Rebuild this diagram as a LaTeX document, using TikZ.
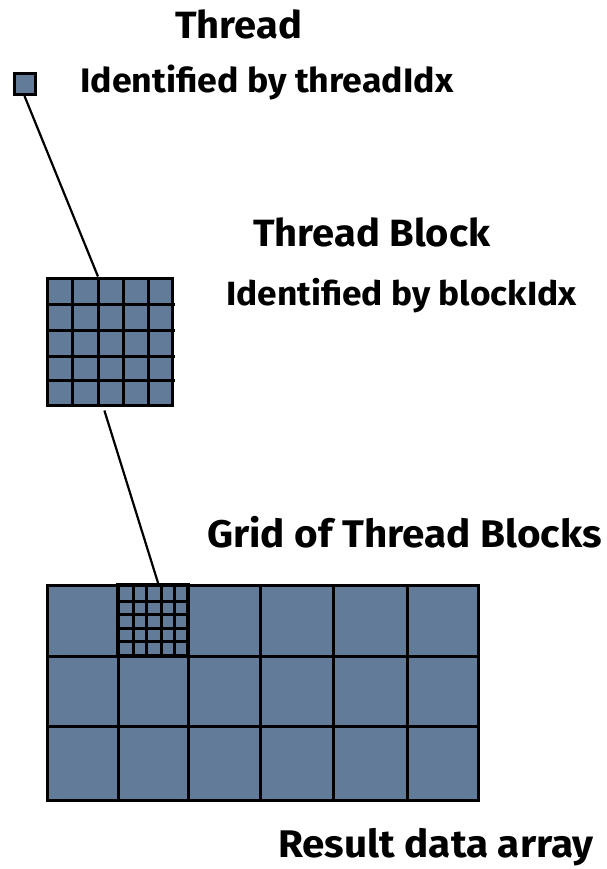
\documentclass[tikz,border=0pt]{standalone}
\usepackage{fontspec}
\setmainfont{Fira Sans}[FakeStretch=1.05]
\usetikzlibrary{calc}
\definecolor{cellblue}{RGB}{98,123,153}
\tikzset{
  label text/.style={anchor=base west, inner sep=0pt, font=\bfseries},
  cellbox/.style={draw=black, fill=cellblue, rectangle, inner sep=0pt, line width=3pt},
  gridline/.style={line width=3pt},
  link/.style={line width=2.2pt}
}
\begin{document}
\begin{tikzpicture}[x=1pt,y=-1pt]
  \useasboundingbox (0,0) rectangle (606,869);

  % single thread
  \node[cellbox, minimum width=21pt, minimum height=21pt] (thread) at (24.5,84) {};

  % thread block: 5 x 5 threads
  \node[cellbox, minimum width=125pt, minimum height=127pt] (block) at (109.5,341.5) {};
  \foreach \xx in {72,98,123,148}
    \draw[gridline] (\xx,278) -- (\xx,405);
  \foreach \yy in {304,330,356,380}
    \draw[gridline] (47,\yy) -- (175,\yy);

  % grid of thread blocks: 6 x 3 blocks
  \node[cellbox, minimum width=431pt, minimum height=215pt] (grid) at (262.5,692.5) {};
  \foreach \xx in {118,188,260,333,407}
    \draw[gridline] (\xx,585) -- (\xx,800);
  \foreach \yy in {656,726}
    \draw[gridline] (47,\yy) -- (478,\yy);

  % one block of the grid, shown with its threads
  \node[draw=black, rectangle, inner sep=0pt, line width=3.5pt, minimum width=70pt, minimum height=71pt] (sub) at (153,620.5) {};
  \foreach \xx in {133,146,161,174}
    \draw[gridline] (\xx,585) -- (\xx,656);
  \foreach \yy in {601,614,628,641}
    \draw[gridline] (118,\yy) -- (188,\yy);

  % connectors between the levels
  \coordinate (blocktop) at ($(block.north west)!0.41!(block.north east)$);
  \coordinate (blockbot) at ($(block.south west)!0.46!(block.south east)$);
  \coordinate (subtop) at ($(sub.north west)!0.57!(sub.north east)$);
  \draw[link] (thread.south) -- (blocktop);
  \draw[link] ([yshift=-4pt]blockbot) -- (subtop);

  % labels
  \node[label text, font=\bfseries\fontsize{38}{38}\selectfont] (tthread) at (175,39) {Thread};
  \node[label text, font=\bfseries\fontsize{34}{34}\selectfont] (tthreadid) at (80,93) {Identified by threadIdx};
  \node[label text, font=\bfseries\fontsize{38}{38}\selectfont] (tblock) at (253,246) {Thread Block};
  \node[label text, font=\bfseries\fontsize{33.6}{34}\selectfont] (tblockid) at (226,305) {Identified by blockIdx};
  \node[label text, font=\bfseries\fontsize{38.5}{38}\selectfont] (tgrid) at (207,547) {Grid of Thread Blocks};
  \node[label text, font=\bfseries\fontsize{38.5}{38}\selectfont] (tresult) at (278,857) {Result data array};
\end{tikzpicture}
\end{document}
